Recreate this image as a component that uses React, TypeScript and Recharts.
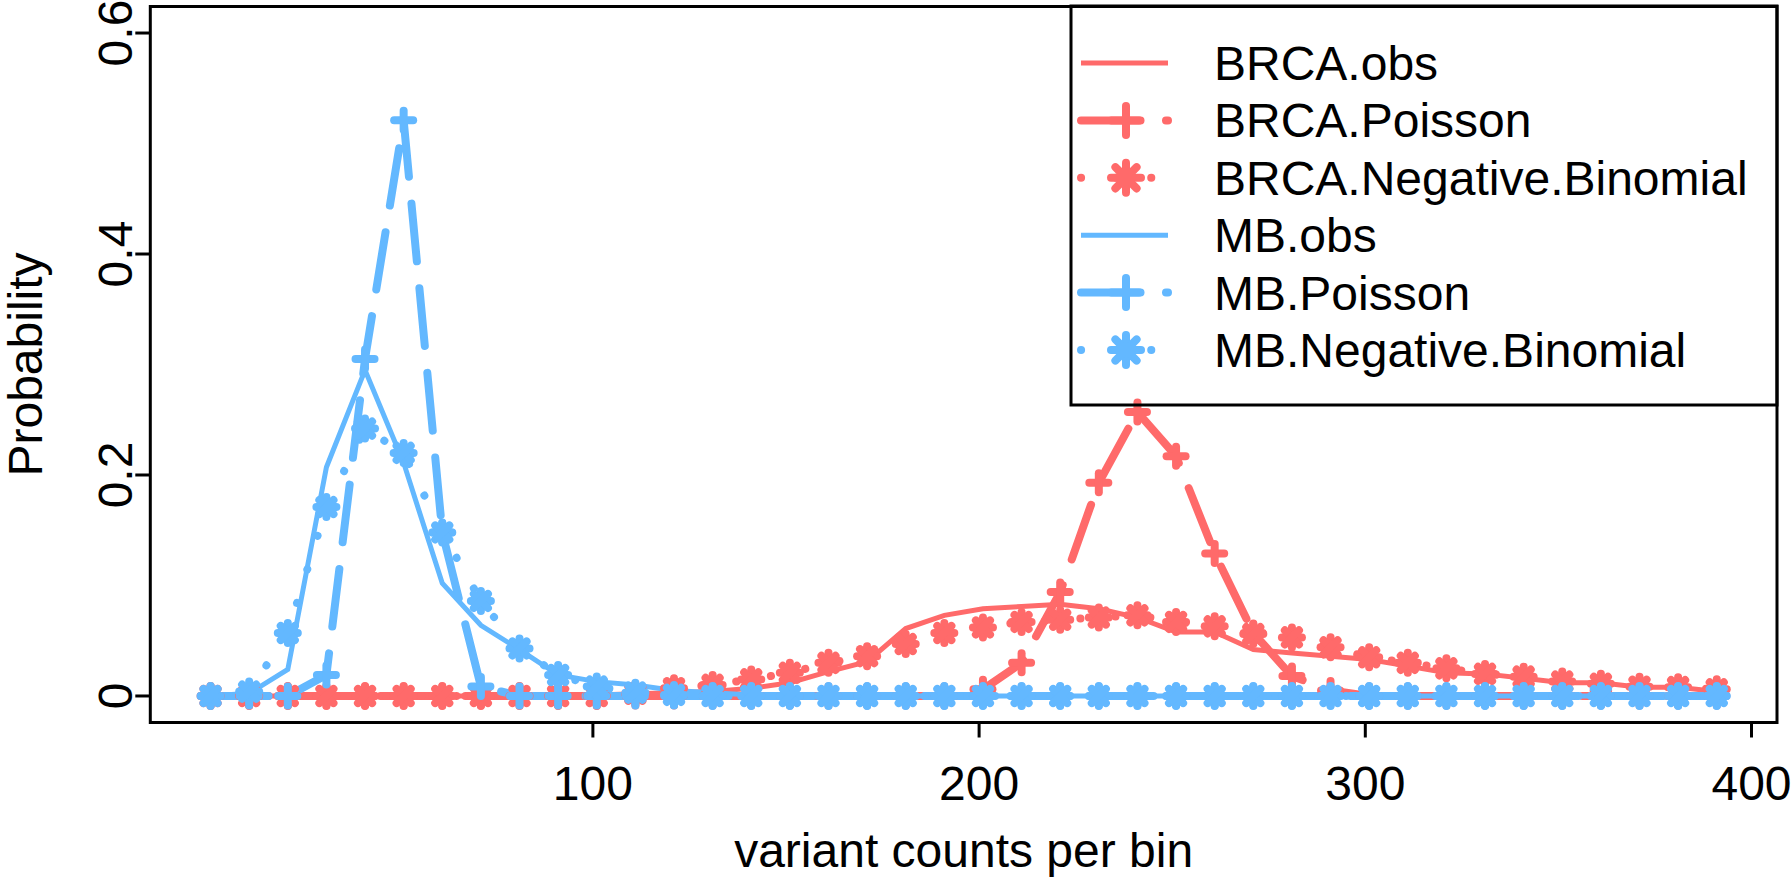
import React from 'react';
import { LineChart, Line, XAxis, YAxis, ReferenceArea, Legend, Label } from 'recharts';

// bin positions (variant counts per bin)
const binStart: number[] = [
  1, 11, 21, 31, 41, 51, 61, 71, 81, 91,
  101, 111, 121, 131, 141, 151, 161, 171, 181, 191,
  201, 211, 221, 231, 241, 251, 261, 271, 281, 291,
  301, 311, 321, 331, 341, 351, 361, 371, 381, 391,
];

const brcaObs: number[] = [
  0, 0, 0, 0, 0, 0, 0, 0, 0, 0,
  0.001, 0.002, 0.003, 0.004, 0.007, 0.012, 0.022, 0.031, 0.061, 0.073,
  0.079, 0.081, 0.083, 0.079, 0.071, 0.058, 0.058, 0.042, 0.039, 0.036,
  0.033, 0.027, 0.021, 0.02, 0.016, 0.012, 0.012, 0.008, 0.008, 0.004,
];

const brcaPoisson: number[] = [
  0, 0, 0, 0, 0, 0, 0, 0, 0, 0,
  0, 0, 0, 0, 0, 0, 0, 0, 0, 0,
  0.006, 0.03, 0.094, 0.193, 0.257, 0.217, 0.129, 0.057, 0.018, 0.005,
  0, 0, 0, 0, 0, 0, 0, 0, 0, 0,
];

const brcaNegBin: number[] = [
  0, 0, 0, 0, 0, 0, 0, 0, 0, 0,
  0, 0.002, 0.007, 0.01, 0.015, 0.021, 0.03, 0.036, 0.047, 0.057,
  0.062, 0.067, 0.069, 0.071, 0.073, 0.067, 0.063, 0.056, 0.053, 0.044,
  0.035, 0.03, 0.025, 0.02, 0.0175, 0.013, 0.011, 0.0084, 0.008, 0.006,
];

const mbObs: number[] = [
  0, 0.0024, 0.024, 0.207, 0.295, 0.211, 0.102, 0.064, 0.042, 0.019,
  0.013, 0.01, 0.005, 0.003, 0.001, 0, 0, 0, 0, 0,
  0, 0, 0, 0, 0, 0, 0, 0, 0, 0,
  0, 0, 0, 0, 0, 0, 0, 0, 0, 0,
];

const mbPoisson: number[] = [
  0, 0, 0, 0.019, 0.305, 0.521, 0.148, 0.0085, 0, 0,
  0, 0, 0, 0, 0, 0, 0, 0, 0, 0,
  0, 0, 0, 0, 0, 0, 0, 0, 0, 0,
  0, 0, 0, 0, 0, 0, 0, 0, 0, 0,
];

const mbNegBin: number[] = [
  0, 0.004, 0.057, 0.171, 0.242, 0.22, 0.148, 0.086, 0.043, 0.019,
  0.0085, 0.003, 0.001, 0, 0, 0, 0, 0, 0, 0,
  0, 0, 0, 0, 0, 0, 0, 0, 0, 0,
  0, 0, 0, 0, 0, 0, 0, 0, 0, 0,
];

const xTicks: number[] = [100, 200, 300, 400];
const yTicks: number[] = [0, 0.2, 0.4, 0.6];
const xDomain: [number, number] = [-14.6, 406.6];
const yDomain: [number, number] = [-0.024, 0.624];

const RED = '#FF6A6A';
const BLUE = '#63B8FF';
const FONT = '"Liberation Sans", Arial, Helvetica, sans-serif';

const rows = binStart.map((x, i) => ({
  x,
  brcaObs: brcaObs[i],
  brcaPoisson: brcaPoisson[i],
  brcaNegBin: brcaNegBin[i],
  mbObs: mbObs[i],
  mbPoisson: mbPoisson[i],
  mbNegBin: mbNegBin[i],
}));

type Kind = 'obs' | 'pois' | 'nb';

const series: { key: string; name: string; color: string; kind: Kind }[] = [
  { key: 'brcaObs', name: 'BRCA.obs', color: RED, kind: 'obs' },
  { key: 'brcaPoisson', name: 'BRCA.Poisson', color: RED, kind: 'pois' },
  { key: 'brcaNegBin', name: 'BRCA.Negative.Binomial', color: RED, kind: 'nb' },
  { key: 'mbObs', name: 'MB.obs', color: BLUE, kind: 'obs' },
  { key: 'mbPoisson', name: 'MB.Poisson', color: BLUE, kind: 'pois' },
  { key: 'mbNegBin', name: 'MB.Negative.Binomial', color: BLUE, kind: 'nb' },
];

const lineStyle = (kind: Kind) => {
  if (kind === 'obs') return { strokeWidth: 5 };
  if (kind === 'pois') return { strokeWidth: 8, strokeDasharray: '58 27', strokeLinecap: 'round' as const };
  return { strokeWidth: 8, strokeDasharray: '0.1 35', strokeLinecap: 'round' as const };
};

const Plus = ({ cx, cy, r, color }: { cx: number; cy: number; r: number; color: string }) => (
  <g stroke={color} strokeWidth={8} strokeLinecap="round">
    <line x1={cx - r} y1={cy} x2={cx + r} y2={cy} />
    <line x1={cx} y1={cy - r} x2={cx} y2={cy + r} />
  </g>
);

const Star = ({ cx, cy, r, color }: { cx: number; cy: number; r: number; color: string }) => {
  const d = r * 0.7071;
  return (
    <g stroke={color} strokeWidth={8} strokeLinecap="round">
      <line x1={cx - r} y1={cy} x2={cx + r} y2={cy} />
      <line x1={cx} y1={cy - r} x2={cx} y2={cy + r} />
      <line x1={cx - d} y1={cy - d} x2={cx + d} y2={cy + d} />
      <line x1={cx - d} y1={cy + d} x2={cx + d} y2={cy - d} />
    </g>
  );
};

const makeDot = (kind: Kind, color: string) => {
  if (kind === 'obs') return false;
  return (p: any) =>
    kind === 'pois' ? (
      <Plus key={`p-${p.index}`} cx={p.cx} cy={p.cy} r={9.5} color={color} />
    ) : (
      <Star key={`s-${p.index}`} cx={p.cx} cy={p.cy} r={10} color={color} />
    );
};

const XTick = ({ x, y, payload }: any) => (
  <text x={x} y={y + 60.5} textAnchor="middle" fontSize={48} fontFamily={FONT} fill="#000">
    {payload.value}
  </text>
);

const YTick = ({ x, y, payload }: any) => (
  <text
    x={x - 1}
    y={y}
    transform={`rotate(-90, ${x - 1}, ${y})`}
    textAnchor="middle"
    fontSize={48}
    fontFamily={FONT}
    fill="#000"
  >
    {payload.value}
  </text>
);

const LegendBox = () => (
  <svg width={712} height={405}>
    <rect x={3} y={3} width={706} height={399} fill="none" stroke="#000" strokeWidth={3} />
    {series.map((s, i) => {
      const y = 60 + i * 57.4;
      return (
        <g key={s.key}>
          <line x1={13} x2={100} y1={y} y2={y} stroke={s.color} {...lineStyle(s.kind)} />
          {s.kind === 'pois' && <Plus cx={58} cy={y} r={14.5} color={s.color} />}
          {s.kind === 'nb' && <Star cx={58} cy={y} r={15} color={s.color} />}
          <text x={146} y={y + 17} fontSize={48} fontFamily={FONT} fill="#000">
            {s.name}
          </text>
        </g>
      );
    })}
  </svg>
);

export default function App() {
  return (
    <div style={{ position: 'absolute', left: 0, top: 0, width: 1792, height: 878, background: '#fff' }}>
      <LineChart
        width={1792}
        height={878}
        data={rows}
        margin={{ top: 6.5, right: 15, bottom: 55.5, left: 50.3 }}
      >
        <XAxis
          dataKey="x"
          type="number"
          domain={xDomain}
          allowDataOverflow
          ticks={xTicks}
          interval={0}
          height={100}
          axisLine={false}
          tickLine={{ stroke: '#000', strokeWidth: 3 }}
          tickSize={15}
          tick={<XTick />}
        >
          <Label
            content={({ viewBox }: any) => (
              <text
                x={viewBox.x + viewBox.width / 2}
                y={viewBox.y + 144.5}
                textAnchor="middle"
                fontSize={48}
                fontFamily={FONT}
                fill="#000"
              >
                variant counts per bin
              </text>
            )}
          />
        </XAxis>
        <YAxis
          type="number"
          domain={yDomain}
          allowDataOverflow
          ticks={yTicks}
          interval={0}
          width={100}
          axisLine={false}
          tickLine={{ stroke: '#000', strokeWidth: 3 }}
          tickSize={15}
          tick={<YTick />}
        >
          <Label
            content={({ viewBox }: any) => {
              const bx = viewBox.x + viewBox.width - 108;
              const cy = viewBox.y + viewBox.height / 2;
              return (
                <text
                  x={bx}
                  y={cy}
                  transform={`rotate(-90, ${bx}, ${cy})`}
                  textAnchor="middle"
                  fontSize={48}
                  fontFamily={FONT}
                  fill="#000"
                >
                  Probability
                </text>
              );
            }}
          />
        </YAxis>
        <ReferenceArea
          x1={xDomain[0]}
          x2={xDomain[1]}
          y1={yDomain[0]}
          y2={yDomain[1]}
          fill="none"
          fillOpacity={0}
          stroke="#000"
          strokeWidth={3}
          ifOverflow="visible"
        />
        {series.map((s) => (
          <Line
            key={s.key}
            type="linear"
            dataKey={s.key}
            name={s.name}
            stroke={s.color}
            {...lineStyle(s.kind)}
            dot={makeDot(s.kind, s.color)}
            activeDot={false}
            isAnimationActive={false}
          />
        ))}
        <Legend
          layout="horizontal"
          verticalAlign="middle"
          align="center"
          content={<LegendBox />}
          wrapperStyle={{ position: 'absolute', left: 1068, top: 3, width: 712, height: 405 }}
        />
      </LineChart>
    </div>
  );
}
